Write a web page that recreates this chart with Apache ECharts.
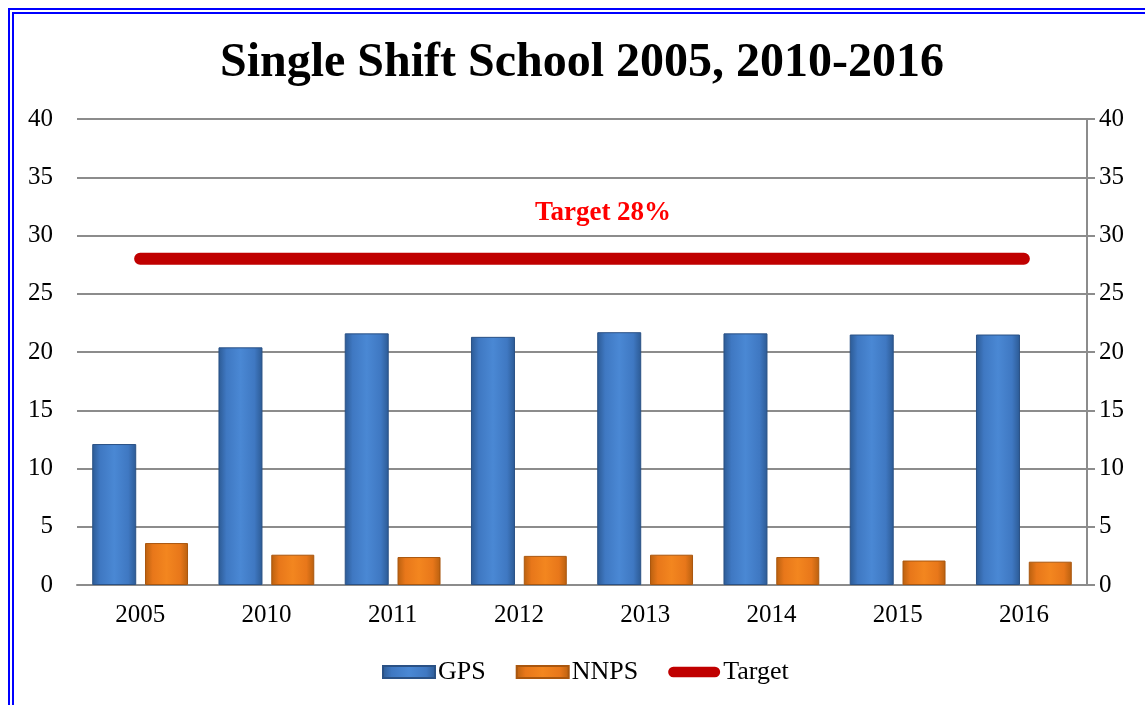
<!DOCTYPE html>
<html>
<head>
<meta charset="utf-8">
<script src="https://cdn.jsdelivr.net/npm/echarts@6/dist/echarts.min.js"></script>
<style>
  html, body { margin: 0; padding: 0; background: #fff; }
  #main { width: 1145px; height: 705px; }
</style>
</head>
<body>
<div id="main"></div>
<script>
const years = ['2005', '2010', '2011', '2012', '2013', '2014', '2015', '2016']
const gps = [12.1, 20.4, 21.6, 21.3, 21.7, 21.6, 21.5, 21.5]
const nnps = [3.6, 2.6, 2.4, 2.5, 2.6, 2.4, 2.1, 2.0]
const target = [28, 28, 28, 28, 28, 28, 28, 28]

const font = '"Liberation Serif", "Times New Roman", serif'

let myChart = echarts.init(document.getElementById('main'))

const blueBar = new echarts.graphic.LinearGradient(0, 0, 1, 0, [
    {offset: 0, color: '#2c5a94'},
    {offset: 0.18, color: '#3f78c2'},
    {offset: 0.5, color: '#4a88d4'},
    {offset: 0.82, color: '#3f78c2'},
    {offset: 1, color: '#2c5a94'}
])
const orangeBar = new echarts.graphic.LinearGradient(0, 0, 1, 0, [
    {offset: 0, color: '#b9600f'},
    {offset: 0.18, color: '#e8771a'},
    {offset: 0.5, color: '#f3861f'},
    {offset: 0.82, color: '#e8771a'},
    {offset: 1, color: '#b9600f'}
])

let option = {
    backgroundColor: '#fff',
    animation: false,
    title: [{
        text: 'Single Shift School 2005, 2010-2016',
        left: 577,
        textAlign: 'center',
        top: 35,
        textStyle: {fontFamily: font, fontSize: 48, fontWeight: 'bold', color: '#000'}
    }, {
        text: 'Target 28%',
        left: 598,
        textAlign: 'center',
        top: 195,
        textStyle: {fontFamily: font, fontSize: 27, fontWeight: 'bold', color: '#ff0000'}
    }],
    legend: {
        top: 654,
        left: 377,
        itemWidth: 52,
        itemHeight: 12,
        itemGap: 30,
        textStyle: {fontFamily: font, fontSize: 26, color: '#000', padding: [0, 0, 0, -2]},
        data: [
            {name: 'GPS', icon: 'rect'},
            {name: 'NNPS', icon: 'rect'},
            {name: 'Target', icon: 'path://M6,0 H54 A6,6 0 0 1 54,12 H6 A6,6 0 0 1 6,0 Z', itemStyle: {color: '#c00000'}}
        ]
    },
    grid: {left: 77, right: 58, top: 119, bottom: 120},
    xAxis: {
        type: 'category',
        data: years,
        axisLine: {lineStyle: {color: '#8c8c8c', width: 2}},
        axisTick: {show: false},
        axisLabel: {fontFamily: font, fontSize: 25, color: '#000', margin: 18}
    },
    yAxis: [{
        type: 'value',
        min: 0,
        max: 40,
        interval: 5,
        axisLine: {show: false},
        axisTick: {show: false},
        splitLine: {lineStyle: {color: '#8c8c8c', width: 2}},
        axisLabel: {fontFamily: font, fontSize: 25, color: '#000', margin: 24}
    }, {
        type: 'value',
        min: 0,
        max: 40,
        interval: 5,
        position: 'right',
        axisLine: {show: true, lineStyle: {color: '#8c8c8c', width: 2}},
        axisTick: {show: true, length: 8, lineStyle: {color: '#8c8c8c', width: 2}},
        splitLine: {show: false},
        axisLabel: {fontFamily: font, fontSize: 25, color: '#000', margin: 12}
    }],
    series: [{
        name: 'GPS',
        type: 'bar',
        data: gps,
        barWidth: 44,
        barGap: '20%',
        itemStyle: {color: blueBar, borderColor: '#2a5185', borderWidth: 1}
    }, {
        name: 'NNPS',
        type: 'bar',
        data: nnps,
        barWidth: 43,
        itemStyle: {color: orangeBar, borderColor: '#a9560e', borderWidth: 1}
    }, {
        name: 'Target',
        type: 'line',
        data: target,
        symbol: 'none',
        lineStyle: {color: '#c00000', width: 12, cap: 'round'},
        itemStyle: {color: '#c00000'},
        z: 5
    }],
    graphic: [{
        type: 'rect',
        shape: {x: 9, y: 9, width: 1200, height: 800},
        style: {fill: 'none', stroke: '#0000ff', lineWidth: 2},
        silent: true
    }, {
        type: 'rect',
        shape: {x: 13, y: 13, width: 1200, height: 800},
        style: {fill: 'none', stroke: '#0000ff', lineWidth: 2},
        silent: true
    }]
}

myChart.setOption(option)
</script>
</body>
</html>
